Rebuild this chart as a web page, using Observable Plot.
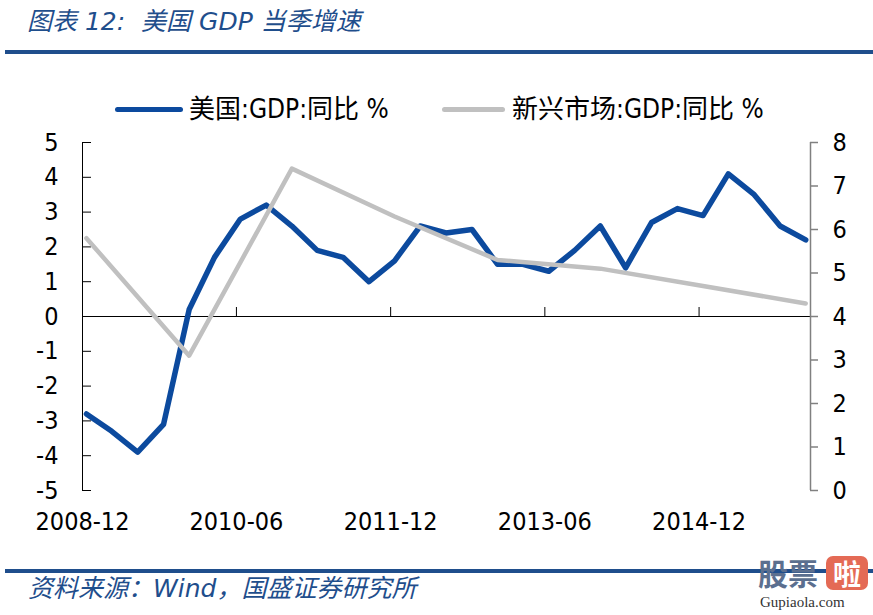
<!DOCTYPE html>
<html><head><meta charset="utf-8">
<script src="https://cdn.jsdelivr.net/npm/d3@7"></script>
<script src="https://cdn.jsdelivr.net/npm/@observablehq/plot@0.6"></script>
<style>
body{margin:0;background:#fff;}
#wrap{position:relative;width:873px;height:615px;overflow:hidden;background:#fff;}
#chart{position:absolute;left:0;top:0;}
.t{position:absolute;white-space:nowrap;}
.title{left:27px;top:5px;font:italic 25px/34px "DejaVu Sans","Noto Sans CJK SC",sans-serif;color:#1f4e8c;}
.rule{position:absolute;left:5px;width:868px;height:4px;background:#1f4e8c;}
.leg{top:94px;font:26px/30px "DejaVu Sans Condensed","DejaVu Sans","Noto Sans CJK SC",sans-serif;color:#000;}
.sw{position:absolute;height:5px;border-radius:3px;}
.foot{left:28px;top:573px;font:italic 25px/32px "DejaVu Sans","Noto Sans CJK SC",sans-serif;color:#1f4e8c;}
.wm1{left:758px;top:553px;font:bold 30px/38px "Noto Sans CJK SC",sans-serif;color:#5b6f8f;}
.wm2{left:826px;top:556px;width:42px;height:34px;border-radius:7px;background:#e46a55;color:#fff;font:bold 28px/34px "Noto Sans CJK SC",sans-serif;text-align:center;}
.wm3{left:760px;top:592px;font:15px/20px "Liberation Serif","DejaVu Serif",serif;color:#333;}
</style></head>
<body>
<div id="wrap">
  <div id="chart"></div>
  <div class="t title">图表 12:&nbsp; 美国 GDP 当季增速</div>
  <div class="rule" style="top:50px"></div>
  <div class="sw" style="left:115px;top:107px;width:68px;background:#0c4a9e"></div>
  <div class="t leg" style="left:189px">美国:GDP:同比 %</div>
  <div class="sw" style="left:442px;top:107px;width:63px;background:#c0c0c0"></div>
  <div class="t leg" style="left:512px">新兴市场:GDP:同比 %</div>
  <div class="rule" style="top:569px"></div>
  <div class="t foot">资料来源：Wind，国盛证券研究所</div>
  <div class="t wm1">股票</div>
  <div class="t wm2">啦</div>
  <div class="t wm3">Gupiaola.com</div>
</div>
<script>
// ---- data ----
const usQuarters = ["2008-12","2009-03","2009-06","2009-09","2009-12","2010-03","2010-06","2010-09","2010-12",
  "2011-03","2011-06","2011-09","2011-12","2012-03","2012-06","2012-09","2012-12","2013-03","2013-06","2013-09",
  "2013-12","2014-03","2014-06","2014-09","2014-12","2015-03","2015-06","2015-09","2015-12"];
const usGdp = [-2.8,-3.3,-3.9,-3.1,0.2,1.7,2.8,3.2,2.6,
  1.9,1.7,1.0,1.6,2.6,2.4,2.5,1.5,1.5,1.3,1.9,
  2.6,1.4,2.7,3.1,2.9,4.1,3.5,2.6,2.2];
const emYears = ["2008-12","2009-12","2010-12","2011-12","2012-12","2013-12","2014-12","2015-12"];
const emGdp = [5.8,3.1,7.4,6.3,5.3,5.1,4.7,4.3];
const xTickLabels = ["2008-12","2010-06","2011-12","2013-06","2014-12"];
const xRange = ["2008-12","2016-01"];
const leftTicks = [-5,-4,-3,-2,-1,0,1,2,3,4,5];
const rightTicks = [0,1,2,3,4,5,6,7,8];

// ---- helpers ----
const parseMid = s => d3.utcParse("%Y-%m-%d")(s + "-15");
const parseStart = s => d3.utcParse("%Y-%m-%d")(s + "-01");
const L = [-5, 5], R = [0, 8];
const toLeft = v => L[0] + (v - R[0]) * (L[1] - L[0]) / (R[1] - R[0]);
const toRight = v => R[0] + (v - L[0]) * (R[1] - R[0]) / (L[1] - L[0]);

const usData = usQuarters.map((q, i) => ({date: parseMid(q), value: usGdp[i]}));
const emData = emYears.map((q, i) => ({date: parseMid(q), value: toLeft(emGdp[i])}));
const xStart = parseStart(xRange[0]), xEnd = parseStart(xRange[1]);
const xTicks = xTickLabels.map(parseStart);

const blue = "#0c4a9e", gray = "#c0c0c0", axisGray = "#808080";
const font = "'DejaVu Sans Condensed','DejaVu Sans',sans-serif";

const chart = Plot.plot({
  width: 873, height: 615,
  marginLeft: 82, marginRight: 63, marginTop: 142, marginBottom: 125,
  style: {fontFamily: font, fontSize: "25px", color: "#000", background: "transparent"},
  x: {type: "utc", domain: [xStart, xEnd]},
  y: {domain: L},
  marks: [
    // zero line (category axis)
    Plot.ruleY([0], {x1: () => xStart, x2: () => xEnd, stroke: "#000", strokeWidth: 1}),
    Plot.ruleX(xTicks, {x: d => d, y1: () => 0, y2: () => 0, insetTop: -9, stroke: "#000"}),
    // left axis
    Plot.ruleX([xStart], {x: d => d, y1: () => L[0], y2: () => L[1], stroke: "#000"}),
    Plot.ruleY(leftTicks, {y: d => d, x1: () => xStart, x2: () => xStart, insetRight: -9, stroke: "#000"}),
    Plot.axisY(leftTicks, {anchor: "left", label: null, tickSize: 0, tickPadding: 24, tickFormat: d => String(d), fontSize: 25, fill: "#000"}),
    // right axis
    Plot.ruleX([xEnd], {x: d => d, y1: () => L[0], y2: () => L[1], stroke: axisGray, strokeWidth: 1.5}),
    Plot.ruleY(rightTicks.map(toLeft), {y: d => d, x1: () => xEnd, x2: () => xEnd, insetRight: -8, stroke: axisGray, strokeWidth: 1.5}),
    Plot.axisY(rightTicks.map(toLeft), {anchor: "right", label: null, tickSize: 0, tickPadding: 22, tickFormat: d => String(Math.round(toRight(d))), fontSize: 25, fill: "#000"}),
    // x labels
    Plot.axisX(xTicks, {anchor: "bottom", label: null, tickSize: 0, tickPadding: 22, tickFormat: d3.utcFormat("%Y-%m"), fontSize: 25, fill: "#000"}),
    // series
    Plot.line(usData, {x: "date", y: "value", stroke: blue, strokeWidth: 5.5}),
    Plot.line(emData, {x: "date", y: "value", stroke: gray, strokeWidth: 4.5})
  ]
});
document.getElementById("chart").appendChild(chart);
</script>
</body></html>
